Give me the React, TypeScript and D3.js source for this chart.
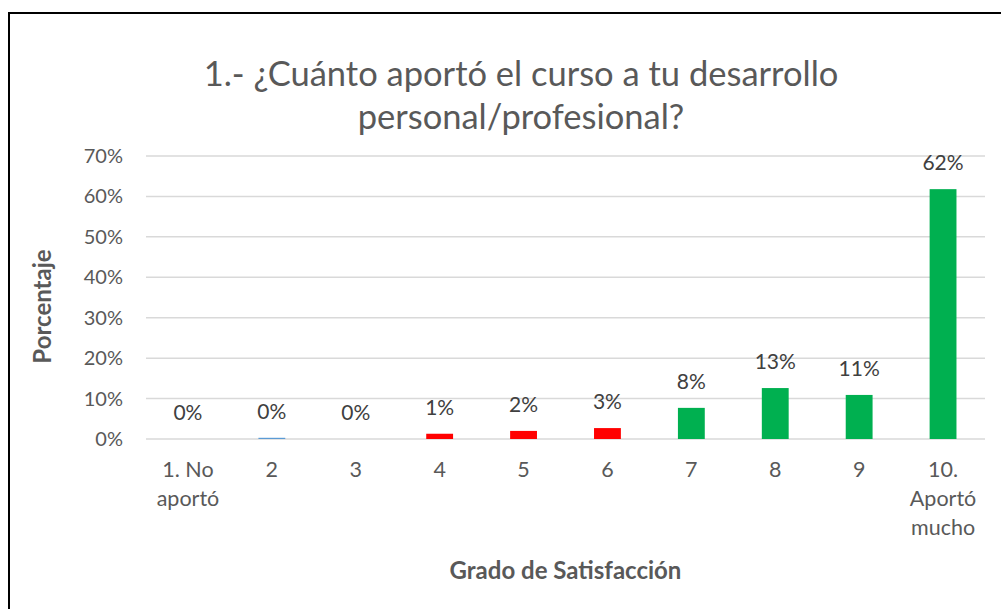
import React from "react";
import * as d3 from "d3";

// categories (x axis), values in percent, colours per bar
const categories = ["1", "2", "3", "4", "5", "6", "7", "8", "9", "10"];
const tickLabels = [["1. No", "aportó"], ["2"], ["3"], ["4"], ["5"], ["6"], ["7"], ["8"], ["9"], ["10.", "Aportó", "mucho"]];
const values = [0, 0.3, 0, 1.3, 2.0, 2.7, 7.7, 12.6, 10.9, 61.8];
const barColors = ["#5B9BD5", "#5B9BD5", "#5B9BD5", "#FF0000", "#FF0000", "#FF0000", "#00B050", "#00B050", "#00B050", "#00B050"];
const yTicks = [0, 10, 20, 30, 40, 50, 60, 70];

const titleLines = ["1.- ¿Cuánto aportó el curso a tu desarrollo", "personal/profesional?"];
const font = "Lato, 'Open Sans', sans-serif";

const App = () => {
    const W = 1001;
    const H = 609;
    const plot = { left: 146, right: 985, top: 156, bottom: 439 };

    const x = d3.scaleBand()
        .domain(categories)
        .range([plot.left, plot.right])
        .paddingInner(0.68)
        .paddingOuter(0.34);

    const y = d3.scaleLinear()
        .domain([0, 70])
        .range([plot.bottom, plot.top]);

    const fmt = (v: number) => Math.round(v) + "%";
    const cx = (c: string) => (x(c) as number) + x.bandwidth() / 2;

    return (
        <>
            <style>{`body{margin:0}`}</style>
            <svg width={W} height={H} style={{ display: "block", fontFamily: font }}>
                <rect x={0} y={0} width={W} height={H} fill="#fff" />
                {/* chart border, runs past the picture on the right and bottom */}
                <rect x={9} y={13} width={W + 20} height={H + 20} fill="none" stroke="#000" strokeWidth={2} />

                {/* title */}
                {titleLines.map((t, i) => (
                    <text key={i} x={521} y={86 + i * 43} textAnchor="middle" fontSize={34.5} fill="#595959">{t}</text>
                ))}

                {/* gridlines + y ticks */}
                {yTicks.map((t) => (
                    <g key={t}>
                        <line x1={plot.left} x2={plot.right} y1={y(t)} y2={y(t)} stroke="#d9d9d9" strokeWidth={1.5} />
                        <text x={123} y={y(t) + 7} textAnchor="end" fontSize={20} fill="#595959">{t + "%"}</text>
                    </g>
                ))}

                {/* bars */}
                {categories.map((c, i) => (
                    <rect key={c} x={x(c)} y={y(values[i])} width={x.bandwidth()}
                        height={plot.bottom - y(values[i])} fill={barColors[i]} />
                ))}

                {/* data labels */}
                {categories.map((c, i) => (
                    <text key={c} x={cx(c)} y={y(values[i]) - 19} textAnchor="middle" fontSize={21} fill="#404040">{fmt(values[i])}</text>
                ))}

                {/* x tick labels */}
                {categories.map((c, i) => (
                    <text key={c} textAnchor="middle" fontSize={21.5} fill="#595959">
                        {tickLabels[i].map((l, j) => (
                            <tspan key={j} x={cx(c)} y={477 + j * 29}>{l}</tspan>
                        ))}
                    </text>
                ))}

                {/* axis titles */}
                <text x={(plot.left + plot.right) / 2} y={579} textAnchor="middle" fontSize={24} fontWeight="bold" fill="#595959">Grado de Satisfacción</text>
                <text transform={`translate(51, ${(plot.top + plot.bottom) / 2 + 9}) rotate(-90)`} textAnchor="middle" fontSize={24} fontWeight="bold" fill="#595959">Porcentaje</text>
            </svg>
        </>
    );
};

export default App;
